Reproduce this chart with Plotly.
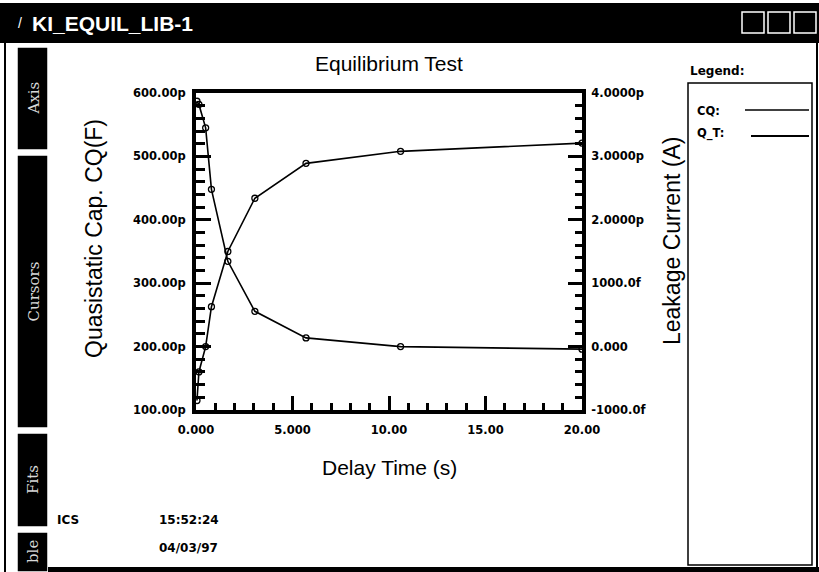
import plotly.graph_objects as go

# ---------------- data ----------------
delay_time_s = [0.05, 0.15, 0.5, 0.8, 1.65, 3.05, 5.7, 10.6, 20.0]
cq_pF = [115, 160, 200, 263, 350, 434, 489, 508, 521]
leak_pA = [3.87, 3.82, 3.45, 2.48, 1.345, 0.557, 0.137, 0.0, -0.04]

x_tickvals = [0, 5, 10, 15, 20]
x_ticktext = ["0.000", "5.000", "10.00", "15.00", "20.00"]
y1_tickvals = [100, 200, 300, 400, 500, 600]
y1_ticktext = ["100.00p", "200.00p", "300.00p", "400.00p", "500.00p", "600.00p"]
y2_tickvals = [-1, 0, 1, 2, 3, 4]
y2_ticktext = ["-1000.0f", "0.000", "1000.0f", "2.0000p", "3.0000p", "4.0000p"]

W, H = 819, 572
L, R, T, B = 196, 582, 93, 410


def X(px):
    return (px - L) / (R - L)


def Y(py):
    return (B - py) / (B - T)


fig = go.Figure()
fig.add_trace(go.Scatter(
    x=delay_time_s, y=cq_pF, name="CQ", mode="lines+markers",
    line=dict(color="black", width=1.6),
    marker=dict(symbol="circle-open", size=6, color="black", line=dict(width=1.3)),
    yaxis="y"))
fig.add_trace(go.Scatter(
    x=delay_time_s, y=leak_pA, name="Q_T", mode="lines+markers",
    line=dict(color="black", width=1.6),
    marker=dict(symbol="circle-open", size=6, color="black", line=dict(width=1.3)),
    yaxis="y2"))

tickfont = dict(family="DejaVu Sans", size=11.5, color="black", weight="bold")

fig.update_layout(
    width=W, height=H,
    margin=dict(l=L, r=W - R, t=T, b=H - B, pad=0),
    paper_bgcolor="white", plot_bgcolor="white",
    showlegend=False,
    xaxis=dict(range=[0, 20], tickvals=x_tickvals, ticktext=x_ticktext,
               showline=True, linewidth=4, linecolor="black", mirror=True,
               ticks="inside", ticklen=14, tickwidth=3, tickcolor="black",
               minor=dict(ticks="inside", dtick=1, ticklen=7, tickwidth=2.5, tickcolor="black"),
               showgrid=False, zeroline=False, tickfont=tickfont, ticklabelstandoff=6),
    yaxis=dict(range=[100, 600], tickvals=y1_tickvals, ticktext=y1_ticktext,
               showline=True, linewidth=4, linecolor="black",
               ticks="inside", ticklen=15, tickwidth=3, tickcolor="black",
               minor=dict(ticks="inside", dtick=20, ticklen=9, tickwidth=3, tickcolor="black"),
               showgrid=False, zeroline=False, tickfont=tickfont, ticklabelstandoff=4),
    yaxis2=dict(range=[-1, 4], tickvals=y2_tickvals, ticktext=y2_ticktext,
                overlaying="y", side="right",
                showline=True, linewidth=4, linecolor="black",
                ticks="inside", ticklen=14, tickwidth=3, tickcolor="black",
                minor=dict(ticks="inside", dtick=0.2, ticklen=7, tickwidth=3, tickcolor="black"),
                showgrid=False, zeroline=False, tickfont=tickfont, ticklabelstandoff=3),
)

shapes = []
annots = []


def rect(x0, y0, x1, y1, fill="black", line_color=None, lw=0):
    shapes.append(dict(type="rect", xref="paper", yref="paper",
                       x0=X(x0), x1=X(x1), y0=Y(y1), y1=Y(y0),
                       fillcolor=fill, line=dict(color=line_color or fill, width=lw)))


def hline(x0, x1, y, color="black", w=1.5):
    shapes.append(dict(type="line", xref="paper", yref="paper",
                       x0=X(x0), x1=X(x1), y0=Y(y), y1=Y(y), line=dict(color=color, width=w)))


def text(t, x, y, size, family="Liberation Sans", color="black", weight="normal",
         xanchor="center", yanchor="middle", angle=0):
    annots.append(dict(text=t, x=X(x), y=Y(y), xref="paper", yref="paper",
                       showarrow=False, xanchor=xanchor, yanchor=yanchor, textangle=angle,
                       font=dict(family=family, size=size, color=color, weight=weight)))


# window chrome: title bar
rect(0, 3, W, 43)
text("/", 20, 23, 14, color="white")
text("KI_EQUIL_LIB-1", 30, 23, 21, family="Liberation Sans Narrow, Liberation Sans",
     color="white", weight="bold", xanchor="left")
for bx in (742, 768, 794):
    rect(bx, 12, bx + 22, 33, fill="black", line_color="white", lw=1.5)

# left tab column
shapes.append(dict(type="line", xref="paper", yref="paper", x0=X(5), x1=X(5),
                   y0=Y(43), y1=Y(H), line=dict(color="black", width=2)))
for (y0, y1, lab) in [(47, 150, "Axis"), (155, 428, "Cursors"), (433, 527, "Fits"), (532, 572, "ble")]:
    rect(17, y0, 48, y1, fill="black", line_color="white", lw=1.5)
    text(lab, 33, (y0 + y1) / 2 if lab != "ble" else 552, 15, family="DejaVu Serif",
         color="#d8d8d8", angle=-90)

# bottom strip and right border
rect(48, 567, W, H)
shapes.append(dict(type="line", xref="paper", yref="paper", x0=X(817), x1=X(817),
                   y0=Y(43), y1=Y(H), line=dict(color="black", width=2)))

# titles
text("Equilibrium Test", 389, 64, 21)
text("Quasistatic Cap. CQ(F)", 94, 239, 23, angle=-90)
text("Leakage Current (A)", 672, 241, 23, angle=-90)
text("Delay Time (s)", 389, 467, 21)

# legend
text("Legend:", 688, 71, 12, family="DejaVu Sans", weight="bold", xanchor="left")
rect(688, 83, 812, 565, fill="rgba(0,0,0,0)", line_color="black", lw=1.5)
text("CQ:", 695, 111, 11.5, family="DejaVu Sans", weight="bold", xanchor="left")
hline(745, 809, 110)
text("Q_T:", 695, 133, 11.5, family="DejaVu Sans", weight="bold", xanchor="left")
hline(751, 809, 136, w=2)

# footer info
text("ICS", 55, 520, 12, family="DejaVu Sans", weight="bold", xanchor="left")
text("15:52:24", 157, 520, 12, family="DejaVu Sans", weight="bold", xanchor="left")
text("04/03/97", 157, 548, 12, family="DejaVu Sans", weight="bold", xanchor="left")

fig.update_layout(shapes=shapes, annotations=annots)
fig.write_html(
    "out.html",
    config={"displayModeBar": False},
    post_script="document.body.style.margin='0';document.body.style.padding='0';"
                "document.documentElement.style.overflow='hidden';",
)
